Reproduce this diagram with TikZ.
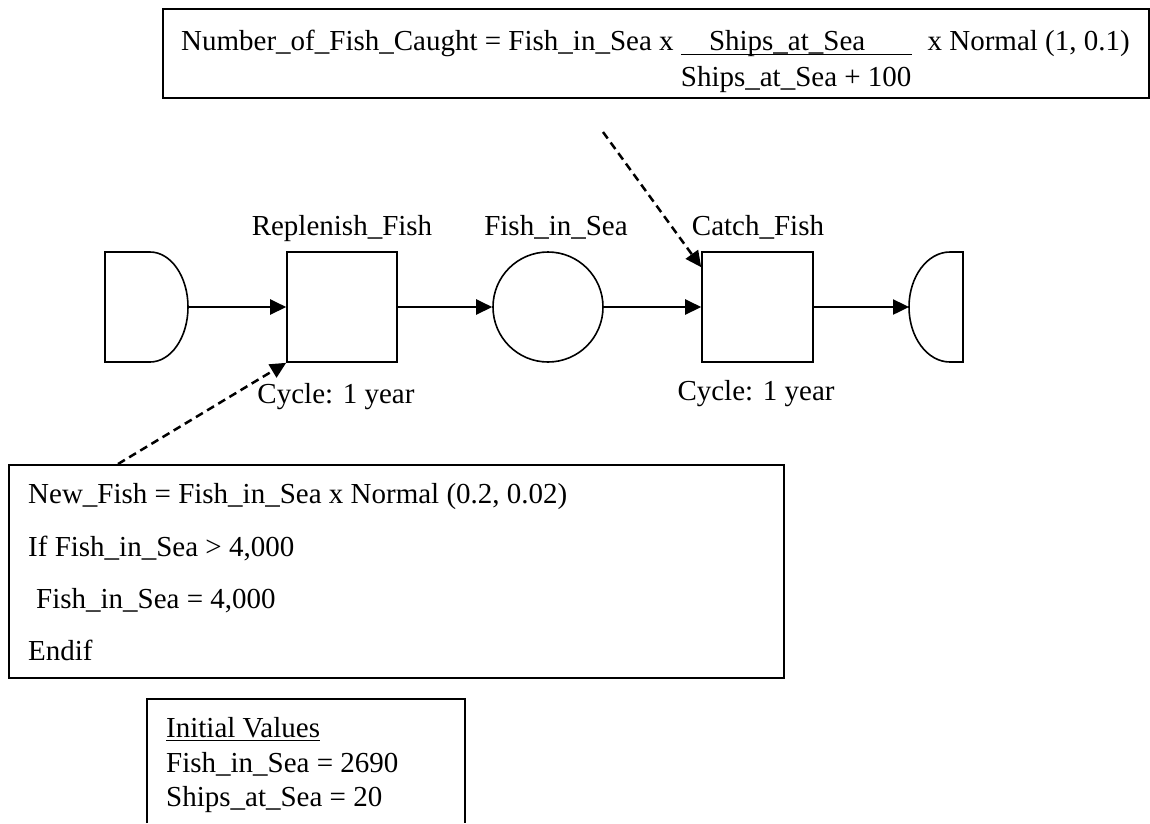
\documentclass[tikz,border=0pt]{standalone}
\usepackage{fontspec}
\setmainfont{Liberation Serif}
\usetikzlibrary{arrows.meta,calc}
\newcommand\myul[2][-5pt]{\leavevmode\setbox0\hbox{#2}\rlap{\rule[#1]{\wd0}{1.5pt}}\box0}
\begin{document}
\begin{tikzpicture}[x=1pt,y=-1pt,
  every node/.style={font=\fontsize{29}{35}\selectfont, inner sep=0pt},
  boxline/.style={line width=1.6pt},
  proc/.style={draw, boxline, minimum width=110pt, minimum height=110pt},
  flow/.style={line width=2.4pt, -{Triangle[length=16pt,width=15pt]}},
  info/.style={line width=2.5pt, dash pattern=on 8pt off 5pt, -{Triangle[length=16pt,width=15pt]}},
  txt/.style={anchor=base west},
  lbl/.style={anchor=base}]
\useasboundingbox (0,0) rectangle (1150,823);

% top formula box
\node[draw, boxline, minimum width=986pt, minimum height=89pt, anchor=north west] (fbox) at (162,8) {};
\node[txt] (f1) at (181,50) {Number\_of\_Fish\_Caught = Fish\_in\_Sea x \myul{\hspace{0.97em}Ships\_at\_Sea\hspace{1.6em}}\hspace{0.3em} x Normal (1, 0.1)};
\node[txt] (f2) at (181,86) {\phantom{Number\_of\_Fish\_Caught = Fish\_in\_Sea x }Ships\_at\_Sea + 100};

% source
\draw[boxline] (105,252) -- (150,252) arc[start angle=-90, end angle=90, x radius=38, y radius=55] -- (105,362) -- cycle;
\coordinate (src) at (188,307);
% sink
\draw[boxline] (950,252) arc[start angle=-90, end angle=-270, x radius=41, y radius=55] -- (963,362) -- (963,252) -- cycle;
\coordinate (snk) at (909,307);

\node[proc] (rep) at (342,307) {};
\node[draw, circle, boxline, minimum size=110pt] (sea) at (548,307) {};
\node[proc, minimum width=111pt] (catch) at (757.5,307) {};

\node[lbl] (lrep) at (342,235) {Replenish\_Fish};
\node[lbl] (lsea) at (556,235) {Fish\_in\_Sea};
\node[lbl] (lcatch) at (758,235) {Catch\_Fish};
\node[lbl] (cyc1) at (336,403) {Cycle: 1 year};
\node[lbl] (cyc2) at (756,400) {Cycle: 1 year};

\draw[flow] (src) -- (rep.west);
\draw[flow] (rep.east) -- (sea.west);
\draw[flow] (sea.east) -- (catch.west);
\draw[flow] (catch.east) -- (snk);

% rule box
\node[draw, boxline, minimum width=775pt, minimum height=213pt, anchor=north west] (rules) at (8,464) {};
\node[txt] (r1) at (28,503) {New\_Fish = Fish\_in\_Sea x Normal (0.2, 0.02)};
\node[txt] (r2) at (28,556) {If Fish\_in\_Sea > 4,000};
\node[txt] (r3) at (36,608) {Fish\_in\_Sea = 4,000};
\node[txt] (r4) at (28,660) {Endif};

\coordinate (a1) at (118,464);
\draw[info] (a1) -- (rep.south west);
\coordinate (a2) at (603,132);
\draw[info] (a2) -- ($(catch.north west)+(0,16)$);

% initial values
\draw[boxline] (147,823) -- (147,699) -- (465,699) -- (465,823);
\node[txt] (i1) at (166,737) {\myul[-4pt]{Initial Values}};
\node[txt] (i2) at (166,772) {Fish\_in\_Sea = 2690};
\node[txt] (i3) at (166,806) {Ships\_at\_Sea = 20};
\end{tikzpicture}
\end{document}
